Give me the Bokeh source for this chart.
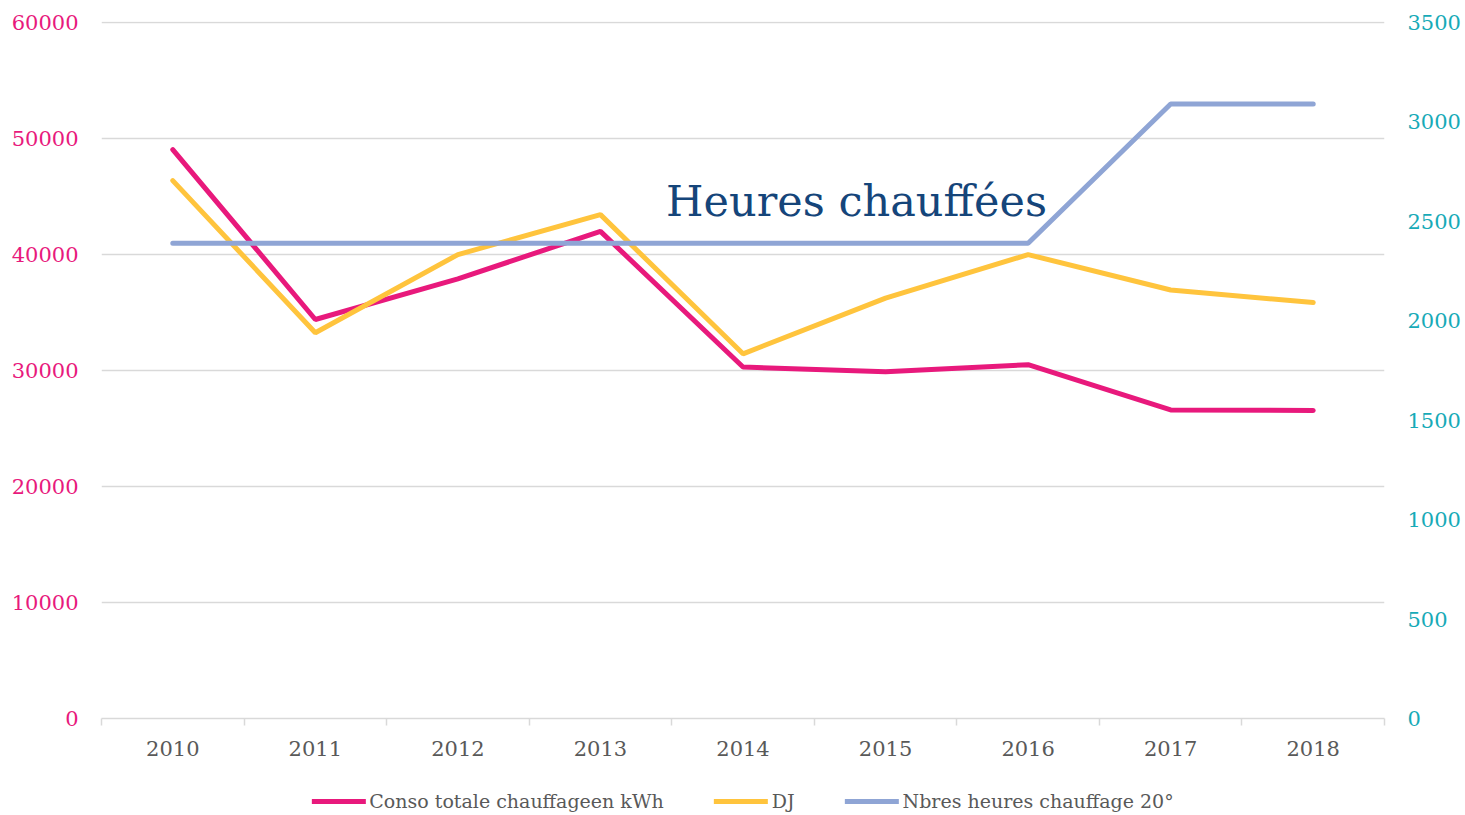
from bokeh.plotting import figure
from bokeh.layouts import column
from bokeh.models import (Range1d, LinearAxis, FixedTicker, Legend, LegendItem,
                          Label, ColumnDataSource, Grid)
from bokeh.embed import file_html
from bokeh.resources import INLINE

years = ["2010", "2011", "2012", "2013", "2014", "2015", "2016", "2017", "2018"]
conso_kwh = [49050, 34400, 37900, 42000, 30300, 29900, 30500, 26600, 26550]
dj = [2705, 1940, 2333, 2534, 1834, 2114, 2333, 2155, 2092]
heures_20 = [2390, 2390, 2390, 2390, 2390, 2390, 2390, 3090, 3090]
left_ticks = [0, 10000, 20000, 30000, 40000, 50000, 60000]
right_ticks = [0, 500, 1000, 1500, 2000, 2500, 3000, 3500]
series_names = ["Conso totale chauffageen kWh", "DJ", "Nbres heures chauffage 20°"]

PINK = "#E8197C"
TEAL = "#17AAB7"
YELLOW = "#FFC43D"
BLUE = "#8FA5D5"
GRID = "#D9D9D9"
GRAYTXT = "#595959"
FONT = "DejaVu Serif"
COLORS = [PINK, YELLOW, BLUE]

xpos = [i + 0.5 for i in range(len(years))]
src = ColumnDataSource(dict(x=xpos, conso=conso_kwh, dj=dj, h=heures_20))

LEFT_MAX = 60090
RIGHT_MAX = 3500 * LEFT_MAX / 60000

p = figure(frame_width=1283, frame_height=697, output_backend="svg",
           toolbar_location=None, x_range=Range1d(0, len(years)),
           y_range=Range1d(0, LEFT_MAX), x_axis_location=None, y_axis_location=None,
           min_border_left=101, min_border_right=76, min_border_top=21,
           min_border_bottom=60)
p.extra_y_ranges = {"right": Range1d(0, RIGHT_MAX)}
p.outline_line_color = None
p.background_fill_color = "white"
p.border_fill_color = "white"
p.xgrid.visible = False
p.ygrid.visible = False

# x axis
xaxis = LinearAxis(ticker=FixedTicker(ticks=xpos, minor_ticks=list(range(len(years) + 1))))
xaxis.major_label_overrides = {x: y for x, y in zip(xpos, years)}
xaxis.major_tick_line_color = None
xaxis.major_tick_out = 0
xaxis.major_tick_in = 0
xaxis.minor_tick_out = 7
xaxis.minor_tick_in = 0
xaxis.minor_tick_line_color = GRID
xaxis.minor_tick_line_width = 1.5
xaxis.axis_line_color = GRID
xaxis.axis_line_width = 1.5
xaxis.major_label_text_font = FONT
xaxis.major_label_text_font_size = "21px"
xaxis.major_label_text_color = GRAYTXT
xaxis.major_label_standoff = 15
p.add_layout(xaxis, "below")

# left axis
laxis = LinearAxis(ticker=FixedTicker(ticks=left_ticks))
laxis.axis_line_color = None
laxis.major_tick_line_color = None
laxis.minor_tick_line_color = None
laxis.major_label_text_color = PINK
laxis.major_label_text_font = FONT
laxis.major_label_text_font_size = "21px"
laxis.major_label_standoff = 17
p.add_layout(laxis, "left")

# right axis
raxis = LinearAxis(y_range_name="right", ticker=FixedTicker(ticks=right_ticks))
raxis.axis_line_color = None
raxis.major_tick_line_color = None
raxis.minor_tick_line_color = None
raxis.major_label_text_color = TEAL
raxis.major_label_text_font = FONT
raxis.major_label_text_font_size = "21px"
raxis.major_label_standoff = 17
p.add_layout(raxis, "right")

g = Grid(dimension=1, ticker=FixedTicker(ticks=left_ticks), grid_line_color=GRID,
         grid_line_width=1.5)
p.add_layout(g)

p.line("x", "conso", source=src, line_color=PINK, line_width=5, line_cap="round")
p.line("x", "dj", source=src, y_range_name="right", line_color=YELLOW,
       line_width=5, line_cap="round")
p.line("x", "h", source=src, y_range_name="right", line_color=BLUE,
       line_width=5, line_cap="round")

title = Label(x=3.96, y=44650, text="Heures chauffées", text_font=FONT,
              text_font_size="43px", text_color="#15457A",
              text_baseline="alphabetic", text_align="left")
p.add_layout(title)

# legend strip (separate small figure placed under the chart).
# Its y range is tiny so the series lines drawn here stay out of view;
# they only serve as legend glyphs.
pl = figure(frame_width=1283, frame_height=46, output_backend="svg",
            toolbar_location=None, x_range=Range1d(0, len(years)),
            y_range=Range1d(-2, -1),
            x_axis_location=None, y_axis_location=None,
            min_border_left=101, min_border_right=76, min_border_top=0,
            min_border_bottom=0)
pl.outline_line_color = None
pl.xgrid.visible = False
pl.ygrid.visible = False
items = []
for name, col, field in zip(series_names, COLORS, ["conso", "dj", "h"]):
    r = pl.line("x", field, source=src, line_color=col, line_width=5,
                line_cap="round")
    items.append(LegendItem(label=name, renderers=[r]))

legend = Legend(items=items, orientation="horizontal", location="center")
legend.label_text_font = FONT
legend.label_text_font_size = "19px"
legend.label_text_color = GRAYTXT
legend.glyph_width = 54
legend.glyph_height = 20
legend.label_standoff = 4
legend.spacing = 50
legend.padding = 0
legend.margin = 0
legend.border_line_color = None
legend.background_fill_alpha = 0
pl.add_layout(legend, "center")

layout = column(p, pl, spacing=0)
open("out.html", "w").write(file_html(layout, INLINE))
